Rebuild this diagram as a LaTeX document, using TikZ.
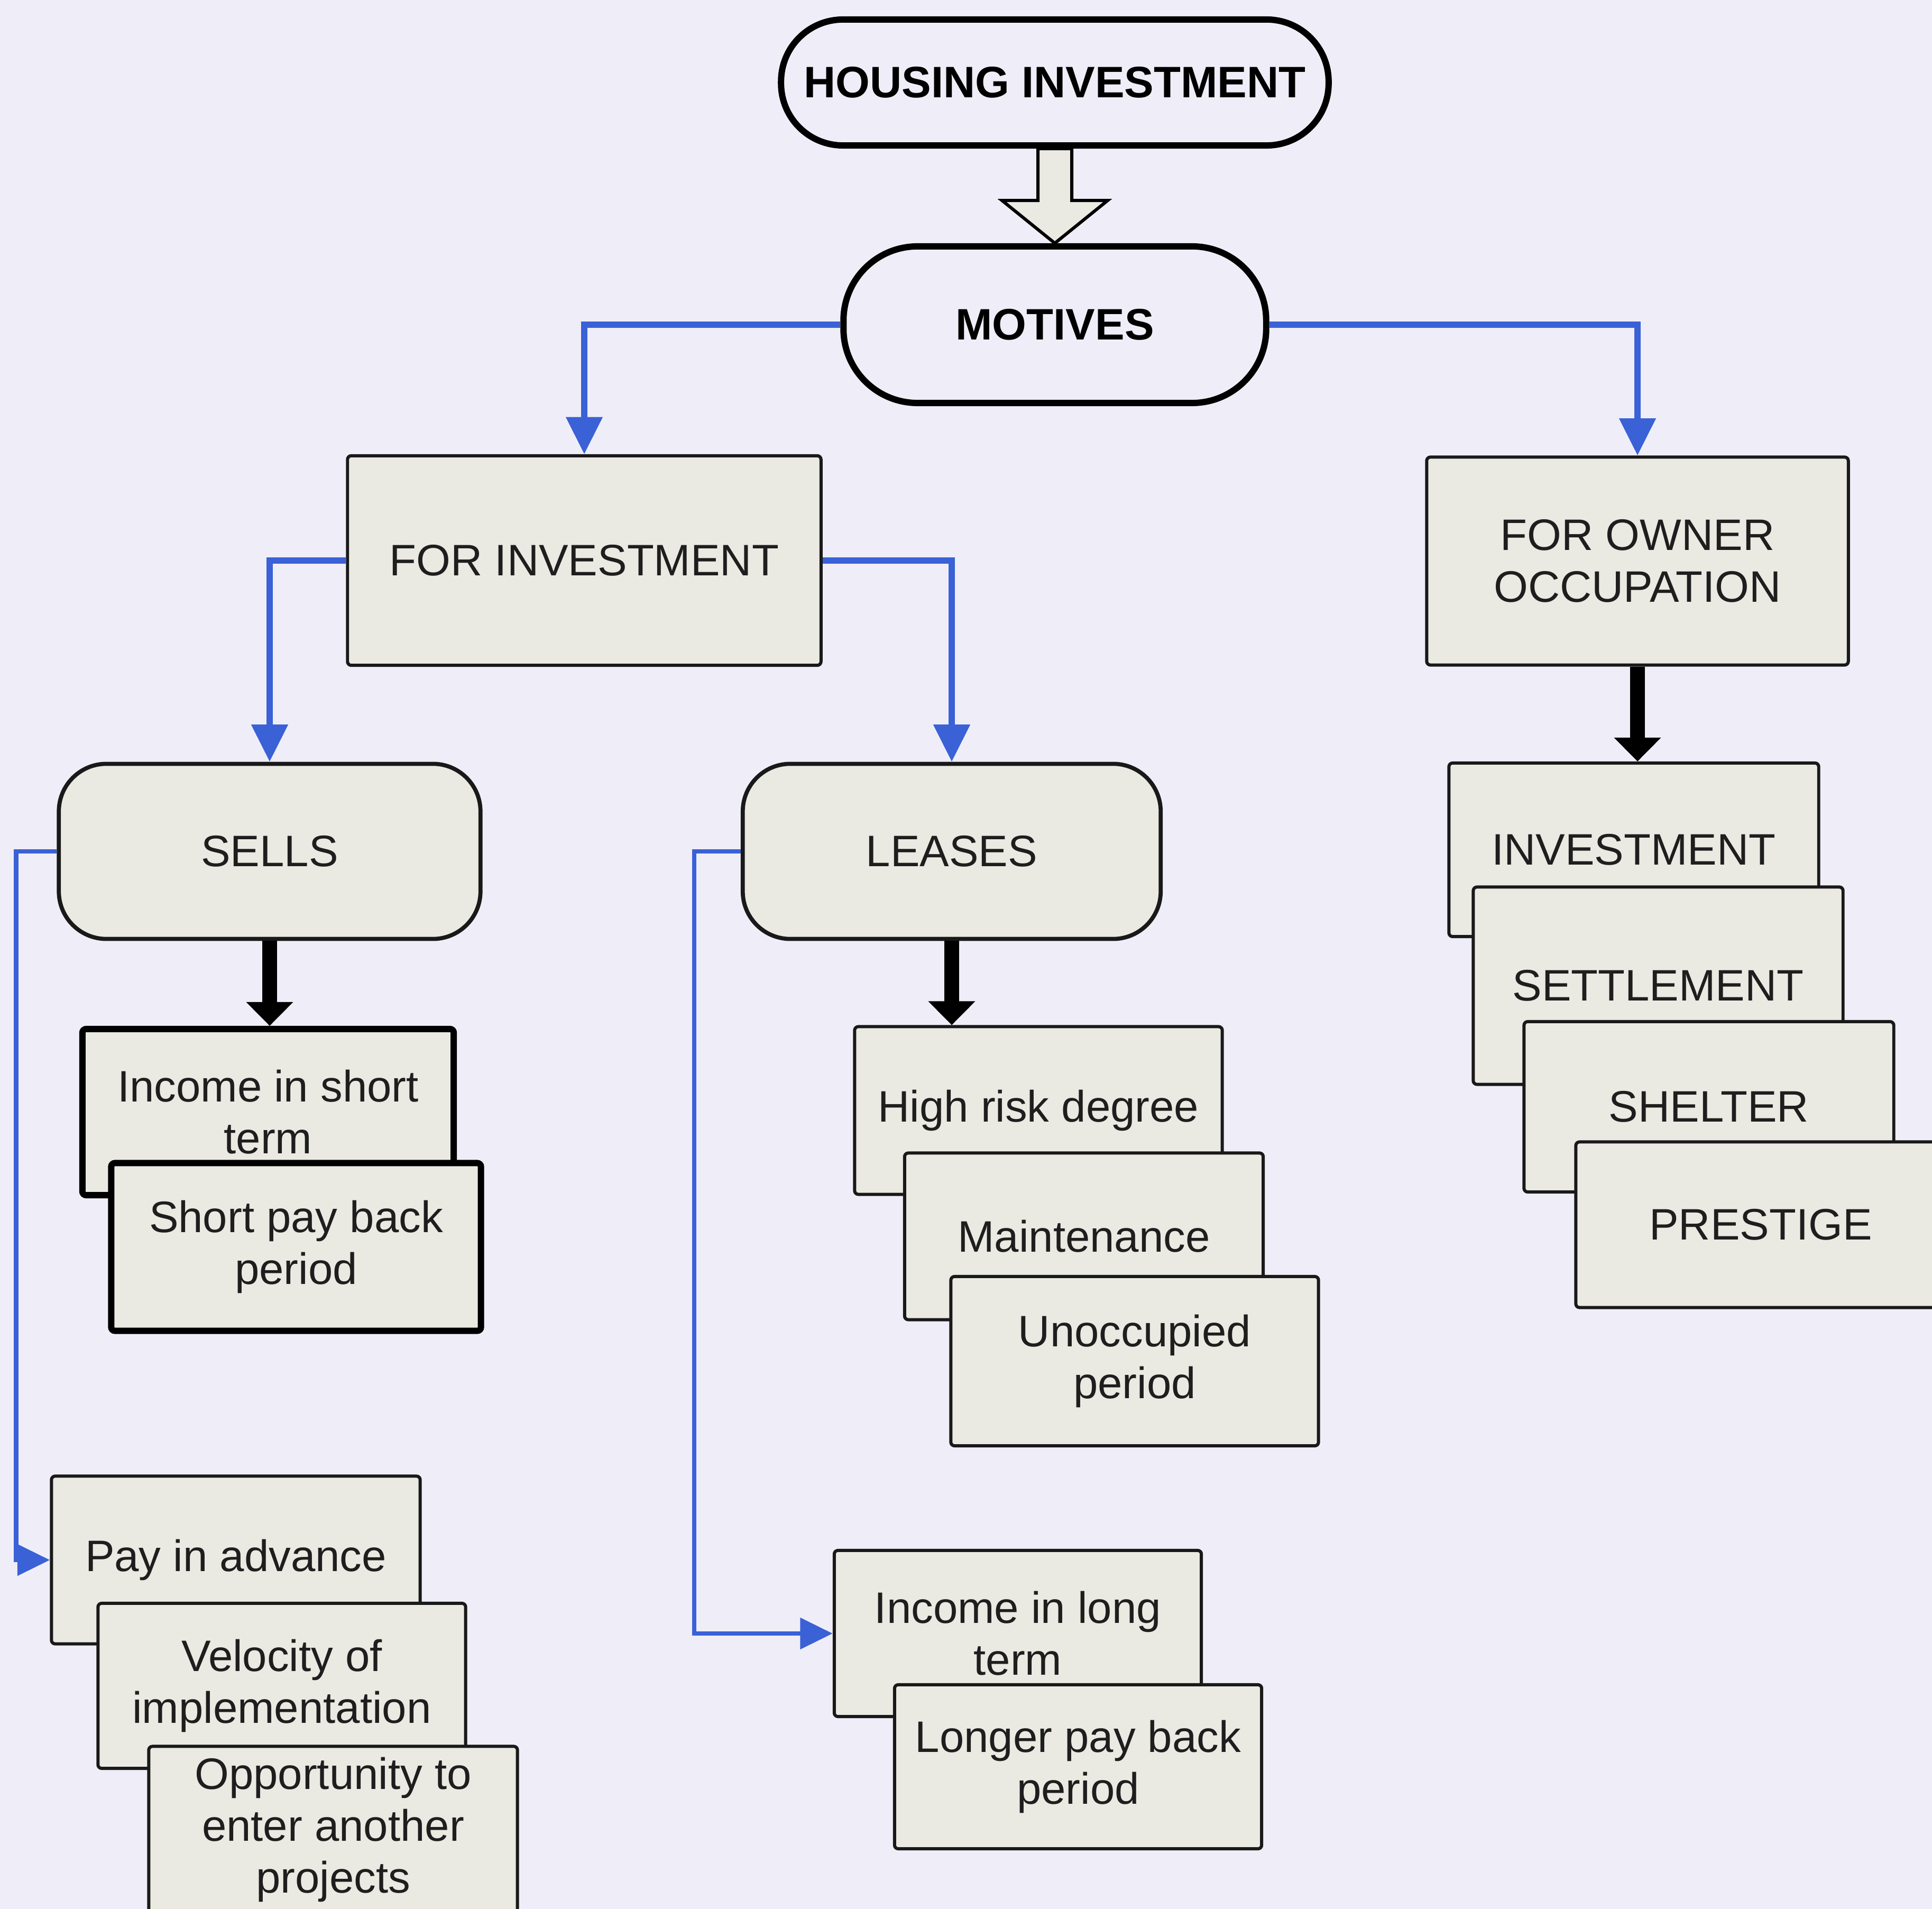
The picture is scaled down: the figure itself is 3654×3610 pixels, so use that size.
\documentclass[tikz,border=0pt]{standalone}
\usepackage{fontspec}
\setmainfont{Liberation Sans}
\usetikzlibrary{arrows.meta,calc}
\definecolor{paper}{HTML}{EFEEF8}
\definecolor{boxfill}{HTML}{EAEAE3}
\definecolor{linkblue}{HTML}{3A61D6}
\definecolor{ink}{HTML}{1E1E1E}
\begin{document}
\begin{tikzpicture}[x=0.01cm,y=-0.01cm,
  every node/.style={font=\fontsize{23.7pt}{27.9pt}\selectfont, text=ink, align=center, inner sep=0pt},
  pill/.style={draw=black, line width=3.4pt, fill=paper, font=\fontsize{23.7pt}{27.9pt}\selectfont\bfseries, text=black},
  topic/.style={draw=black!90, line width=1.7pt, fill=boxfill, rounded corners=2pt},
  branch/.style={draw=black!90, line width=2.2pt, fill=boxfill, rounded corners=0.9cm},
  item/.style={draw=black!90, line width=1.7pt, fill=boxfill, rounded corners=2pt},
  bolditem/.style={item, draw=black, line width=3.4pt},
  bluemain/.style={draw=linkblue, line width=3.4pt, -{Triangle[length=20pt,width=19pt]}},
  bluethin/.style={draw=linkblue, line width=2.5pt, -{Triangle[length=17.5pt,width=16.5pt]}},
  blackarrow/.style={draw=black, line width=8pt, -{Triangle[length=12.8pt,width=24.5pt]}},
  hollow/.style={draw=black, line width=1.7pt, fill=boxfill, line join=miter},
]
\useasboundingbox (0,0) rectangle (3654,3610);
\fill[paper] (0,0) rectangle (3654,3610);

% top of the hierarchy
\node[pill, minimum width=10.35cm, minimum height=2.38cm, rounded corners=1.17cm] (hi) at (1995,156) {HOUSING INVESTMENT};
\node[pill, minimum width=7.99cm, minimum height=2.96cm, rounded corners=1.4cm] (mot) at (1995,614) {MOTIVES};

% two motives
\node[topic, minimum width=8.95cm, minimum height=3.96cm] (finv) at (1105,1060) {FOR INVESTMENT};
\node[topic, minimum width=7.97cm, minimum height=3.93cm] (fown) at (3097,1061) {FOR OWNER\\OCCUPATION};

% ways of investing
\node[branch, minimum width=7.97cm, minimum height=3.31cm] (sells) at (510,1610) {SELLS};
\node[branch, minimum width=7.90cm, minimum height=3.31cm] (leases) at (1800,1610) {LEASES};

% sells: consequences
\node[bolditem, minimum width=7.02cm, minimum height=3.14cm] (ist) at (507,2103) {Income in short\\term};
\node[bolditem, minimum width=6.99cm, minimum height=3.17cm] (spb) at (560,2358) {Short pay back\\period};

% sells: advantages
\node[item, minimum width=6.97cm, minimum height=3.17cm] (pia) at (446,2950) {Pay in advance};
\node[item, minimum width=6.95cm, minimum height=3.12cm] (vel) at (533,3188) {Velocity of\\implementation};
\node[item, minimum width=6.97cm, minimum height=3.15cm] (opp) at (630,3460) {Opportunity to\\enter another\\projects};

% leases: drawbacks
\node[item, minimum width=6.95cm, minimum height=3.17cm] (hrd) at (1964,2100) {High risk degree};
\node[item, minimum width=6.78cm, minimum height=3.15cm] (mnt) at (2050,2338) {Maintenance};
\node[item, minimum width=6.95cm, minimum height=3.20cm] (unp) at (2146,2574) {Unoccupied\\period};

% leases: returns
\node[item, minimum width=6.94cm, minimum height=3.14cm] (ilt) at (1925,3089) {Income in long\\term};
\node[item, minimum width=6.94cm, minimum height=3.10cm] (lpb) at (2039,3341) {Longer pay back\\period};

% owner occupation reasons
\node[item, minimum width=6.99cm, minimum height=3.28cm] (inv) at (3090,1607) {INVESTMENT};
\node[item, minimum width=6.99cm, minimum height=3.73cm] (set) at (3136,1864) {SETTLEMENT};
\node[item, minimum width=6.99cm, minimum height=3.22cm] (shl) at (3232,2093) {SHELTER};
\node[item, minimum width=6.99cm, minimum height=3.13cm] (pre) at (3330,2316) {PRESTIGE};

% hollow block arrow between the two pills
\draw[hollow] ($(hi.south)+(-32,0)$) -- ($(hi.south)+(32,0)$) -- ($(hi.south)+(32,98)$)
  -- ($(hi.south)+(100,98)$) -- (mot.north) -- ($(hi.south)+(-100,98)$)
  -- ($(hi.south)+(-32,98)$) -- cycle;

% blue elbow connectors
\draw[bluemain] (mot.west) -| (finv.north);
\draw[bluemain] (mot.east) -| (fown.north);
\draw[bluemain] (finv.west) -| (sells.north);
\draw[bluemain] (finv.east) -| (leases.north);
\draw[bluethin] (sells.west) -- ++(-77,0) |- (pia.west);
\draw[bluethin] (leases.west) -- ++(-88,0) |- (ilt.west);

% black down arrows
\draw[blackarrow] (sells.south) -- (sells.south |- ist.north);
\draw[blackarrow] (leases.south) -- (leases.south |- hrd.north);
\draw[blackarrow] (fown.south) -- (fown.south |- inv.north);
\end{tikzpicture}
\end{document}
